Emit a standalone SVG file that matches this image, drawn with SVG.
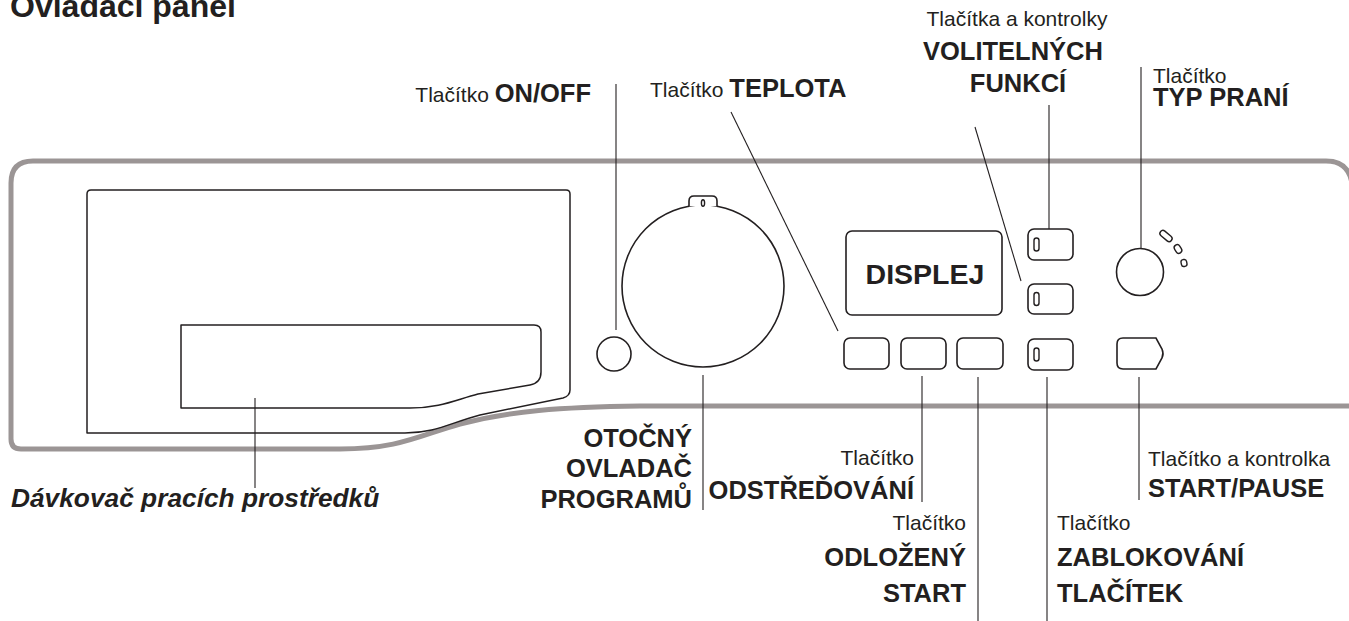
<svg xmlns="http://www.w3.org/2000/svg" width="1349" height="621" viewBox="0 0 1349 621">
<style>
text{font-family:"Liberation Sans",Arial,Helvetica,sans-serif;fill:#231f20}
.r{font-size:21px}
.b{font-size:25.5px;font-weight:bold}
.title{font-size:32px;font-weight:bold}
.it{font-size:26.3px;font-weight:bold;font-style:italic}
.panel{fill:none;stroke:#9b9595;stroke-width:5;stroke-linejoin:round}
.ln{fill:none;stroke:#231f20;stroke-width:1.5;stroke-linejoin:round}
.btn{fill:#fff;stroke:#231f20;stroke-width:1.6}
.led{fill:#fff;stroke:#231f20;stroke-width:1.4}
.lead{stroke:#231f20;stroke-width:1.1;fill:none}
</style>
<rect width="1349" height="621" fill="#fff"/>
<text class="title" x="10" y="17">Ovladací panel</text>

<g id="panel">
<path class="panel" d="M1352 406 H640 C560 407 510 411 460 424 C420 435 400 449 340 449 H21 Q11 449 11 439 V183 Q11 161 33 161 H1326 Q1349 161 1352 184"/>
</g>

<g id="dispenser">
<path class="ln" d="M87 433 V194 Q87 190 91 190 H566 Q570 190 570 194 V390 Q570 396 563 398 L480 415 C450 423 435 433 405 433 Z"/>
<path class="ln" d="M181 325 H534 Q541 325 541 332 V372 Q541 383 530 385 L478 394 C455 400 440 408 410 408 H181 Z"/>
</g>

<g id="onoff">
<circle class="btn" cx="614" cy="354" r="17"/>
</g>

<g id="knob">
<circle class="btn" cx="703" cy="286" r="81"/>
<path class="btn" d="M689 206.3 V201 Q689 196 694 196 H712 Q717 196 717 201 V206.3"/>
<ellipse class="led" cx="703" cy="203" rx="1.6" ry="3.2"/>
</g>

<g id="display">
<rect class="btn" x="846" y="231" width="156" height="84" rx="6"/>
<text x="925" y="284" text-anchor="middle" style="font-size:28.5px;font-weight:bold">DISPLEJ</text>
</g>

<g id="btn-teplota"><rect class="btn" x="844" y="338" width="45" height="31" rx="6"/></g>
<g id="btn-odstredovani"><rect class="btn" x="901" y="338" width="45" height="31" rx="6"/></g>
<g id="btn-odlozeny"><rect class="btn" x="957" y="338" width="46" height="31" rx="6"/></g>

<g id="btn-opt1"><rect class="btn" x="1028" y="229" width="45" height="31" rx="6"/><rect class="led" x="1034" y="238" width="5" height="13" rx="2.5"/></g>
<g id="btn-opt2"><rect class="btn" x="1028" y="284" width="45" height="30" rx="6"/><rect class="led" x="1034" y="292.5" width="5" height="13" rx="2.5"/></g>
<g id="btn-lock"><rect class="btn" x="1028" y="339" width="45" height="31" rx="6"/><rect class="led" x="1034" y="348" width="5" height="13" rx="2.5"/></g>

<g id="typ-prani">
<circle class="btn" cx="1140" cy="272" r="23.5"/>
<rect class="led" x="-7" y="-3" width="14" height="6" rx="3" transform="translate(1166 236) rotate(40)"/>
<rect class="led" x="-4.5" y="-3" width="9" height="6" rx="3" transform="translate(1178 249) rotate(58)"/>
<rect class="led" x="-3.5" y="-2.8" width="7" height="5.6" rx="2.5" transform="translate(1184 263) rotate(78)"/>
</g>

<g id="start-pause">
<path class="btn" d="M1123 338 H1156 L1162 349 Q1164 353.5 1162 358 L1156 369 H1123 Q1117 369 1117 363 V344 Q1117 338 1123 338 Z"/>
</g>

<g id="connectors">
<line class="lead" x1="616" y1="84" x2="616" y2="330"/>
<line class="lead" x1="731" y1="112" x2="838" y2="331"/>
<line class="lead" x1="1049" y1="105" x2="1049" y2="229"/>
<line class="lead" x1="975" y1="127" x2="1021" y2="281"/>
<line class="lead" x1="1141" y1="67" x2="1141" y2="248"/>
<line class="lead" x1="255" y1="398" x2="255" y2="488"/>
<line class="lead" x1="703" y1="375" x2="703" y2="510"/>
<line class="lead" x1="922" y1="376" x2="922" y2="502"/>
<line class="lead" x1="978" y1="377" x2="978" y2="621"/>
<line class="lead" x1="1047" y1="377" x2="1047" y2="621"/>
<line class="lead" x1="1139" y1="377" x2="1139" y2="500"/>
</g>

<g id="labels">
<text x="591" y="102" text-anchor="end"><tspan class="r">Tlačítko </tspan><tspan class="b">ON/OFF</tspan></text>
<text x="650" y="97"><tspan class="r">Tlačítko </tspan><tspan class="b">TEPLOTA</tspan></text>
<text class="r" x="1017" y="26" text-anchor="middle">Tlačítka a kontrolky</text>
<text class="b" x="1013" y="60" text-anchor="middle">VOLITELNÝCH</text>
<text class="b" x="1018" y="92" text-anchor="middle">FUNKCÍ</text>
<text class="r" x="1153" y="83">Tlačítko</text>
<text class="b" x="1153" y="106">TYP PRANÍ</text>
<text class="b" x="692" y="447" text-anchor="end">OTOČNÝ</text>
<text class="b" x="692" y="477" text-anchor="end">OVLADAČ</text>
<text class="b" x="692" y="508" text-anchor="end">PROGRAMŮ</text>
<text class="it" x="11" y="507">Dávkovač pracích prostředků</text>
<text class="r" x="914" y="465" text-anchor="end">Tlačítko</text>
<text class="b" x="914" y="499" text-anchor="end">ODSTŘEĎOVÁNÍ</text>
<text class="r" x="1148" y="466">Tlačítko a kontrolka</text>
<text class="b" x="1148" y="497">START/PAUSE</text>
<text class="r" x="966" y="530" text-anchor="end">Tlačítko</text>
<text class="b" x="966" y="566" text-anchor="end">ODLOŽENÝ</text>
<text class="b" x="966" y="602" text-anchor="end">START</text>
<text class="r" x="1057" y="530">Tlačítko</text>
<text class="b" x="1057" y="566">ZABLOKOVÁNÍ</text>
<text class="b" x="1057" y="602">TLAČÍTEK</text>
</g>
</svg>
